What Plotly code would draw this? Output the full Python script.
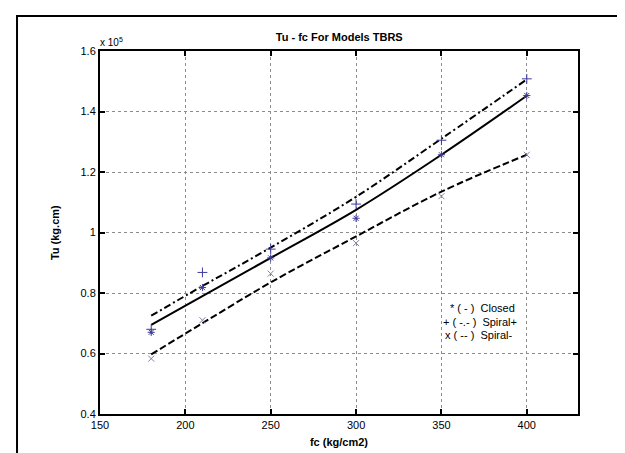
import plotly.graph_objects as go

# Data (Tu in units of 1e5 kg.cm)
fc_pts = [180, 210, 250, 300, 350, 400]
closed_pts = [0.670, 0.818, 0.916, 1.047, 1.257, 1.453]
spiral_plus_pts = [0.680, 0.868, 0.945, 1.094, 1.305, 1.508]
spiral_minus_pts = [0.583, 0.710, 0.864, 0.965, 1.120, 1.257]

fc_fit = [180, 210, 250, 300, 350, 400]
closed_fit = [0.695, 0.790, 0.916, 1.075, 1.257, 1.452]
spiral_plus_fit = [0.725, 0.823, 0.950, 1.118, 1.310, 1.506]
spiral_minus_fit = [0.597, 0.700, 0.835, 0.987, 1.135, 1.257]

x_ticks = [150, 200, 250, 300, 350, 400]
y_ticks = [0.4, 0.6, 0.8, 1.0, 1.2, 1.4, 1.6]
y_tick_text = ["0.4", "0.6", "0.8", "1", "1.2", "1.4", "1.6"]

legend_lines = ["* ( - )  Closed", "+ ( -.- )  Spiral+", "x ( -- )  Spiral-"]
legend_x = [354, 349.5, 351]
legend_y = [0.75, 0.705, 0.66]

FONT = "Liberation Sans, Arial, sans-serif"
MK = "#3b3b9e"

fig = go.Figure()
fig.add_trace(go.Scatter(x=fc_fit, y=closed_fit, mode="lines", line_shape="spline",
                         line=dict(color="black", width=2)))
fig.add_trace(go.Scatter(x=fc_fit, y=spiral_plus_fit, mode="lines", line_shape="spline",
                         line=dict(color="black", width=2, dash="7px,3px,2px,3px")))
fig.add_trace(go.Scatter(x=fc_fit, y=spiral_minus_fit, mode="lines", line_shape="spline",
                         line=dict(color="black", width=2, dash="7px,3px")))
fig.add_trace(go.Scatter(x=fc_pts, y=closed_pts, mode="markers",
                         marker=dict(symbol="asterisk-open", size=6, color=MK, line=dict(color=MK, width=1))))
fig.add_trace(go.Scatter(x=fc_pts, y=spiral_plus_pts, mode="markers",
                         marker=dict(symbol="cross-thin-open", size=7, color=MK, line=dict(color=MK, width=1))))
fig.add_trace(go.Scatter(x=fc_pts, y=spiral_minus_pts, mode="markers",
                         marker=dict(symbol="x-thin-open", size=6, color="#8080a0", line=dict(color="#8080a0", width=1))))

for t, lx, ly in zip(legend_lines, legend_x, legend_y):
    fig.add_annotation(x=lx, y=ly, xref="x", yref="y", text=t, showarrow=False,
                       xanchor="left", yanchor="middle", font=dict(family=FONT, size=11, color="black"))

fig.add_annotation(x=0, y=1, xref="paper", yref="paper", text="x 10<sup>5</sup>", showarrow=False,
                   xanchor="left", yanchor="bottom", xshift=-2, yshift=1, font=dict(family=FONT, size=10, color="black"))
fig.add_annotation(x=-0.095, y=0.5, xref="paper", yref="paper", text="<b>Tu (kg.cm)</b>", showarrow=False,
                   textangle=-90, xanchor="center", yanchor="middle", font=dict(family=FONT, size=11, color="black"))

fig.add_shape(type="rect", xref="paper", yref="paper", x0=-0.1736, x1=1.098, y0=-0.113, y1=1.0964,
              line=dict(color="black", width=2), fillcolor="rgba(0,0,0,0)")

axis_common = dict(showline=True, linecolor="black", linewidth=2, mirror="ticks",
                   ticks="inside", ticklen=5, tickwidth=2, tickcolor="black",
                   showgrid=True, gridcolor="#8c8c8c", gridwidth=1, griddash="dot",
                   zeroline=False, tickfont=dict(family=FONT, size=11, color="black"))

fig.update_layout(
    width=625, height=453,
    margin=dict(l=92, r=55, t=43, b=47),
    paper_bgcolor="white", plot_bgcolor="white",
    showlegend=False,
    title=dict(text="<b>Tu - fc For Models TBRS</b>", x=0.53, xanchor="center", y=0.935, yanchor="middle",
               font=dict(family=FONT, size=11, color="black")),
    xaxis=dict(range=[150, 430], tickvals=x_ticks, title=dict(text="<b>fc (kg/cm2)</b>", standoff=8,
               font=dict(family=FONT, size=11, color="black")), **axis_common),
    yaxis=dict(range=[0.4, 1.6], tickvals=y_ticks, ticktext=y_tick_text, **axis_common),
)

fig.write_html("out.html")
